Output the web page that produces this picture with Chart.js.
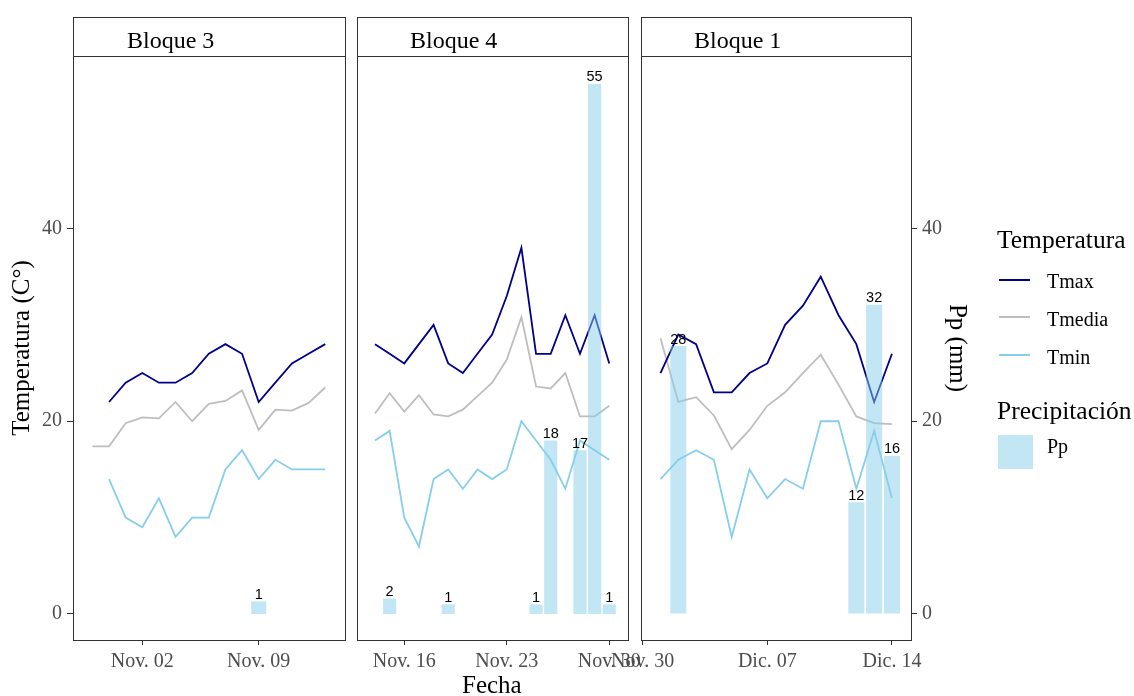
<!DOCTYPE html>
<html>
<head>
<meta charset="utf-8">
<script src="https://cdn.jsdelivr.net/npm/chart.js@4.4.0/dist/chart.umd.min.js"></script>
<style>
  html, body { margin: 0; padding: 0; background: #fff; }
  body { width: 1134px; height: 696px; position: relative; overflow: hidden; font-family: "Liberation Serif", serif; }
  canvas { position: absolute; top: 0; }
  .strip { position: absolute; top: 17px; height: 40px; box-sizing: border-box; border: 1px solid #333; background: #fff; }
  .txt { position: absolute; white-space: nowrap; line-height: 1; color: #000; }
  .key { position: absolute; height: 2px; }
</style>
</head>
<body>
<canvas id="b3" width="360" height="696" style="left:0px"></canvas>
<canvas id="b4" width="330" height="696" style="left:340px"></canvas>
<canvas id="b1" width="544" height="696" style="left:590px"></canvas>

<div class="strip" style="left:73px;width:273px"></div>
<div class="strip" style="left:357px;width:272px"></div>
<div class="strip" style="left:641px;width:271px"></div>
<div class="txt" style="left:127px;top:28px;font-size:24px">Bloque 3</div>
<div class="txt" style="left:410px;top:28px;font-size:24px">Bloque 4</div>
<div class="txt" style="left:694px;top:28px;font-size:24px">Bloque 1</div>

<div class="txt" style="left:462px;top:672px;font-size:25px">Fecha</div>

<!-- legend -->
<div class="txt" style="left:997px;top:227px;font-size:25.5px">Temperatura</div>
<div class="key" style="left:999px;top:279px;width:31px;background:#00008B"></div>
<div class="txt" style="left:1047px;top:271px;font-size:20px">Tmax</div>
<div class="key" style="left:999px;top:316px;width:31px;background:#BEBEBE"></div>
<div class="txt" style="left:1047px;top:309px;font-size:20px">Tmedia</div>
<div class="key" style="left:999px;top:354px;width:31px;background:#87CEEB"></div>
<div class="txt" style="left:1047px;top:347px;font-size:20px">Tmin</div>
<div class="txt" style="left:997px;top:398px;font-size:25.5px">Precipitación</div>
<div class="key" style="left:998px;top:435px;width:35px;height:34px;background:rgba(135,206,235,0.5)"></div>
<div class="txt" style="left:1047px;top:436px;font-size:20px">Pp</div>

<script>
// day numbers: 1 = Nov 1, 31 = Dec 1
const daysB3 = [-1, 0, 1, 2, 3, 4, 5, 6, 7, 8, 9, 10, 11, 12, 13];
const tmaxB3 = [null, 22, 24, 25, 24, 24, 25, 27, 28, 27, 22, 24, 26, 27, 28];
const tmediaB3 = [17.4, 17.4, 19.8, 20.4, 20.3, 22.0, 20.0, 21.8, 22.1, 23.2, 19.1, 21.2, 21.1, 21.9, 23.5];
const tminB3 = [null, 14, 10, 9, 12, 8, 10, 10, 15, 17, 14, 16, 15, 15, 15];
const ppB3 = [null, null, null, null, null, null, null, null, null, null, 1.3, null, null, null, null];
const ticksB3 = [2, 9];
const tickLabelsB3 = ["Nov. 02", "Nov. 09"];

const daysB4 = [14, 15, 16, 17, 18, 19, 20, 21, 22, 23, 24, 25, 26, 27, 28, 29, 30];
const tmaxB4 = [28, 27, 26, 28, 30, 26, 25, 27, 29, 33, 38, 27, 27, 31, 27, 31, 26];
const tmediaB4 = [20.8, 22.9, 21.0, 22.7, 20.7, 20.5, 21.2, 22.6, 24.0, 26.4, 30.8, 23.6, 23.4, 25.0, 20.5, 20.5, 21.6];
const tminB4 = [18, 19, 10, 7, 14, 15, 13, 15, 14, 15, 20, 18, 16, 13, 18, 17, 16];
const ppB4 = [null, 1.6, null, null, null, 1.0, null, null, null, null, null, 1.0, 18, null, 17, 55, 1.0];
const ticksB4 = [16, 23, 30];
const tickLabelsB4 = ["Nov. 16", "Nov. 23", "Nov. 30"];

const daysB1 = [31, 32, 33, 34, 35, 36, 37, 38, 39, 40, 41, 42, 43, 44];
const tmaxB1 = [25, 29, 28, 23, 23, 25, 26, 30, 32, 35, 31, 28, 22, 27];
const tmediaB1 = [28.6, 22.0, 22.5, 20.6, 17.1, 19.1, 21.6, 23.0, 25.0, 26.9, 23.8, 20.5, 19.8, 19.7];
const tminB1 = [14, 16, 17, 16, 8, 15, 12, 14, 13, 20, 20, 13, 19, 12];
const ppB1 = [null, 27.8, null, null, null, null, null, null, null, null, null, 11.6, 32.1, 16.4];
const ticksB1 = [30, 37, 44];
const tickLabelsB1 = ["Nov. 30", "Dic. 07", "Dic. 14"];

const yTicks = [0, 20, 40];

const SERIF = "'Liberation Serif', 'Times New Roman', serif";
const Y_MIN = -2.7, Y_MAX = 57.9;

const panelBox = {
	id: "panelBox",
	afterDraw(chart) {
		const { ctx, chartArea: a } = chart;
		ctx.save();
		ctx.strokeStyle = "#333";
		ctx.lineWidth = 1;
		ctx.strokeRect(a.left + 0.5, a.top + 0.5, a.right - a.left, a.bottom - a.top);
		ctx.restore();
	},
};

const barLabels = {
	id: "barLabels",
	afterDatasetsDraw(chart) {
		const { ctx } = chart;
		chart.data.datasets.forEach((ds, di) => {
			if (ds.type !== "bar") return;
			chart.getDatasetMeta(di).data.forEach((bar, i) => {
				const v = ds.data[i].y;
				if (v == null) return;
				ctx.save();
				ctx.font = "14.5px 'Liberation Sans', Arial, sans-serif";
				ctx.fillStyle = "#000";
				ctx.textAlign = "center";
				ctx.textBaseline = "alphabetic";
				ctx.fillText(Math.round(v), bar.x, bar.y - 2.5);
				ctx.restore();
			});
		});
	},
};

const line = (label, xs, ys, color) => ({
	type: "line",
	label,
	data: xs.map((x, i) => ({ x, y: ys[i] })),
	borderColor: color,
	borderWidth: 1.8,
	pointRadius: 0,
	tension: 0,
	fill: false,
	order: 1,
	yAxisID: "y",
});

const yAxis = (show, position, title, width, titlePad) => ({
	display: show,
	position,
	min: Y_MIN,
	max: Y_MAX,
	bounds: "data",
	afterBuildTicks: s => {
		s.ticks = yTicks.map(v => ({ value: v }));
	},
	afterFit: s => {
		s.width = width;
	},
	ticks: {
		color: "#4D4D4D",
		padding: 5,
		font: { family: SERIF, size: 20 },
	},
	grid: { drawOnChartArea: false, drawTicks: true, tickLength: 6, color: "#333" },
	border: { display: false },
	title: {
		display: !!title,
		text: title,
		color: "#000",
		font: { family: SERIF, size: 25, lineHeight: 1.2 },
		padding: { top: titlePad, bottom: 0 },
	},
});

function makePanel(id, days, tmax, tmedia, tmin, pp, ticks, tickLabels, xMin, xMax, pad, axes) {
	new Chart(document.getElementById(id), {
		type: "line",
		plugins: [panelBox, barLabels],
		data: {
			datasets: [
				{
					type: "bar",
					label: "Pp",
					data: days.map((x, i) => ({ x, y: pp[i] })),
					backgroundColor: "rgba(135,206,235,0.5)",
					borderWidth: 0,
					categoryPercentage: 1,
					barPercentage: 0.9,
					order: 0,
					yAxisID: "yPp",
				},
				line("Tmax", days, tmax, "#00008B"),
				line("Tmedia", days, tmedia, "#BEBEBE"),
				line("Tmin", days, tmin, "#87CEEB"),
			],
		},
		options: {
			responsive: false,
			animation: false,
			layout: { padding: pad },
			plugins: { legend: { display: false }, tooltip: { enabled: false } },
			scales: {
				x: {
					type: "linear",
					min: xMin,
					max: xMax,
					bounds: "data",
					offset: false,
					afterBuildTicks: s => {
						s.ticks = ticks.map(v => ({ value: v }));
					},
					afterFit: s => {
						s.height = 56;
					},
					ticks: {
						autoSkip: false,
						maxRotation: 0,
						minRotation: 0,
						padding: 5,
						color: "#4D4D4D",
						font: { family: SERIF, size: 20 },
						callback: (v, i) => tickLabels[i],
					},
					grid: { drawOnChartArea: false, drawTicks: true, tickLength: 5, color: "#333", offset: false },
					border: { display: false },
				},
				y: axes.y,
				yPp: axes.yPp,
			},
		},
	});
}

makePanel("b3", daysB3, tmaxB3, tmediaB3, tminB3, ppB3, ticksB3, tickLabelsB3, -2.167, 14.19,
	{ left: 0, right: 15, top: 56, bottom: 0 },
	{ y: yAxis(true, "left", "Temperatura (C°)", 73, 7), yPp: yAxis(false, "right", "", 0, 0) });

makePanel("b4", daysB4, tmaxB4, tmediaB4, tminB4, ppB4, ticksB4, tickLabelsB4, 12.77, 31.28,
	{ left: 17, right: 42, top: 56, bottom: 0 },
	{ y: yAxis(false, "left", "", 0, 0), yPp: yAxis(false, "right", "", 0, 0) });

makePanel("b1", daysB1, tmaxB1, tmediaB1, tminB1, ppB1, ticksB1, tickLabelsB1, 29.905, 45.07,
	{ left: 51, right: 162, top: 56, bottom: 0 },
	{ y: yAxis(false, "left", "", 0, 0), yPp: yAxis(true, "right", "Pp (mm)", 61, 0) });
</script>
</body>
</html>
